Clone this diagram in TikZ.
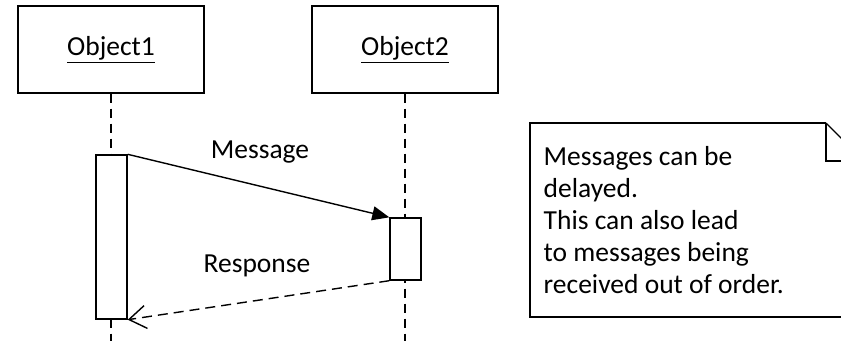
\documentclass[tikz,border=0pt]{standalone}
\usepackage{fontspec}
\setmainfont{Carlito}
\usetikzlibrary{arrows.meta}
\begin{document}
\begin{tikzpicture}[x=1pt,y=-1pt,line width=1.4pt,
  objbox/.style={draw,fill=white,minimum width=186pt,minimum height=87pt,inner sep=0pt,font=\fontsize{27.5}{32}\selectfont},
  actbox/.style={draw,fill=white,minimum width=31pt,inner sep=0pt},
  lifeline/.style={dash pattern=on 9pt off 6pt},
  lbl/.style={font=\fontsize{27.5}{32}\selectfont,inner sep=0pt}]
\useasboundingbox (0,0) rectangle (841,341);
\clip (0,0) rectangle (841,341);
\node[objbox] (obj1) at (111,49.5) {\underline{Object1}};
\node[objbox] (obj2) at (405,49.5) {\underline{Object2}};
\coordinate (end1) at (111,341);
\coordinate (end2) at (405,341);
\draw[lifeline] (obj1.south) -- (end1);
\draw[lifeline] (obj2.south) -- (end2);
\node[actbox,minimum height=164pt] (act1) at (111.5,237) {};
\node[actbox,minimum height=62pt] (act2) at (405.5,249) {};
\draw[-{Triangle[length=17pt,width=14pt]}] (act1.north east) -- (act2.north west);
\draw[dash pattern=on 10pt off 6pt,-{Straight Barb[length=17pt,width=23pt,line width=1.4pt]}] (act2.south west) -- (act1.south east);
\node[lbl] (msg) at (260,152) {Message};
\node[lbl] (resp) at (257,266) {Response};
% note
\draw (826,123) -- (530,123) -- (530,317) -- (850,317);
\draw (826,123) -- (826,161) -- (850,161);
\draw (826,123) -- (864,161);
\node[lbl,anchor=north west,align=left] (note) at (543,146)
  {Messages can be\\delayed.\\This can also lead\\to messages being\\received out of order.};
\end{tikzpicture}
\end{document}
